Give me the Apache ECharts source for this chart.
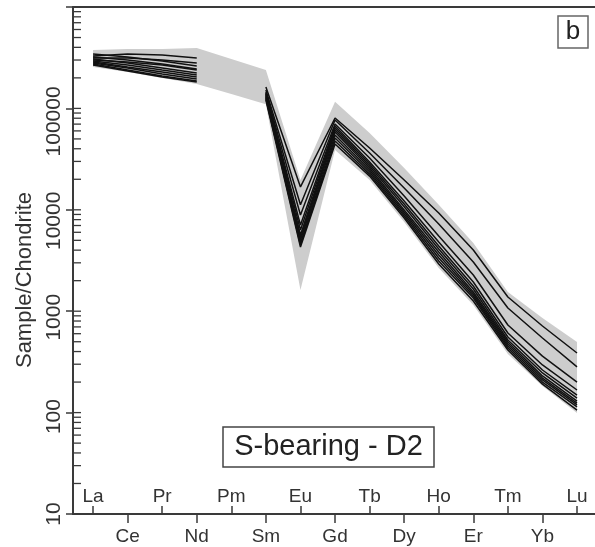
<!DOCTYPE html>
<html><head><meta charset="utf-8">
<script src="https://cdn.jsdelivr.net/npm/echarts@6/dist/echarts.min.js"></script>
<style>html,body{margin:0;padding:0;background:#fff}#c{width:595px;height:547px}</style>
</head><body><div id="c"></div>
<script>
// ---------- data ----------
const categories = ['La','Ce','Pr','Nd','Pm','Sm','Eu','Gd','Tb','Dy','Ho','Er','Tm','Yb','Lu'];
const yTickLabels = [10, 100, 1000, 10000, 100000];
const minorTickValues = [
  10,20,30,40,50,60,70,80,90,
  100,200,300,400,500,600,700,800,900,
  1000,2000,3000,4000,5000,6000,7000,8000,9000,
  10000,20000,30000,40000,50000,60000,70000,80000,90000,
  100000,200000,300000,400000,500000,600000,700000,800000,900000,1000000
];
// envelope (grey field)
const bandUpper = [377000,385000,385000,394000,307000,239000,19700,116000,57200,25800,11200,4710,1546,857,497];
const bandLower = [256000,229000,199000,174000,139000,110000,1619,38900,19700,7580,2667,1151,378,183,99];
// individual samples (Pm not analysed)
const sampleA = [329000,344000,336000,314000,null,163000,16800,80400,40700,19700,9300,4015,1380,715,387];
const sampleB = [314000,314000,300000,280000,null,152000,11200,76800,36300,16400,7240,3057,1075,544,282];
const sampleC = [300000,287000,268000,239000,null,145000,8890,70200,32400,13700,5520,2275,731,361,200];
const sampleD = [344000,321000,293000,262000,null,142000,7080,67100,29600,12200,4810,1941,610,295,167];
const sampleE = [321000,300000,274000,245000,null,139000,6320,64100,28300,11400,4400,1773,557,263,149];
const sampleF = [307000,280000,250000,223000,null,136000,5640,61200,27000,10700,4110,1656,520,246,139];
const sampleG = [293000,268000,239000,214000,null,133000,5270,58500,25800,9950,3835,1546,497,230,130];
const sampleH = [287000,256000,229000,204000,null,130000,5040,54700,24700,9510,3583,1477,475,219,124];
const sampleI = [280000,250000,218000,195000,null,127000,4710,51100,23600,9090,3348,1412,454,210,119];
const sampleJ = [274000,239000,209000,186000,null,124000,4500,47700,22500,8690,3127,1350,434,200,114];
const sampleK = [268000,234000,204000,182000,null,121000,4300,44600,21500,8300,2921,1261,414,191,106];
const samples = [sampleA,sampleB,sampleC,sampleD,sampleE,sampleF,sampleG,sampleH,sampleI,sampleJ,sampleK];

// ---------- chart ----------
const FONT = 'Liberation Sans, Arial, sans-serif';
const AXC = '#3a3a3a';
const idx = categories.map((c, i) => i);
const evenIdx = idx.filter(i => i % 2 === 0);
const oddIdx = idx.filter(i => i % 2 === 1);
const XMIN = -0.58, XMAX = 14.52;
const catFmt = v => categories[Math.round(v)] || '';

const chart = echarts.init(document.getElementById('c'), null, {renderer: 'canvas'});

const lineSeries = samples.map(s => ({
  type: 'line', xAxisIndex: 0, yAxisIndex: 0, symbol: 'none', silent: true,
  connectNulls: false, animation: false, z: 3,
  lineStyle: {color: '#111', width: 1.5},
  data: s.map((v, i) => [i, v == null ? '-' : v])
}));

const bandSeries = {
  type: 'custom', xAxisIndex: 0, yAxisIndex: 0, silent: true, animation: false, z: 1,
  data: [[0, bandUpper[0]]],
  renderItem: function (params, api) {
    const pts = [];
    bandUpper.forEach((v, i) => pts.push(api.coord([i, v])));
    for (let i = bandLower.length - 1; i >= 0; i--) pts.push(api.coord([i, bandLower[i]]));
    return {type: 'polygon', shape: {points: pts}, style: {fill: '#cdcdcd', stroke: null}};
  }
};

// inner y ticks (1-9 per decade) placed through the log axis
const tickSeries = {
  type: 'custom', xAxisIndex: 0, yAxisIndex: 0, silent: true, animation: false, z: 5, clip: false,
  encode: {x: 0, y: 1},
  data: minorTickValues.map(v => [XMIN, v]),
  renderItem: function (params, api) {
    const p = api.coord([api.value(0), api.value(1)]);
    return {type: 'line', shape: {x1: p[0], y1: p[1], x2: p[0] + 8, y2: p[1]},
            style: {stroke: AXC, lineWidth: 1.3}};
  }
};

// per-label shift mimicking the original label placement
const labelShift = [0, 8, 12, 22, 26];
const rich = {};
labelShift.forEach((p, i) => {
  rich['s' + i] = {fontSize: 21, color: '#333', fontFamily: FONT, padding: [0, p, 0, 0]};
});

const option = {
  animation: false,
  backgroundColor: '#fff',
  grid: {left: 73, right: 0, top: 7, bottom: 33, containLabel: false, outerBoundsMode: 'none'},
  xAxis: [
    {type: 'value', position: 'bottom', min: XMIN, max: XMAX,
     axisLine: {show: true, onZero: false, lineStyle: {color: AXC, width: 2}},
     splitLine: {show: false},
     axisTick: {show: true, inside: true, length: 8, customValues: evenIdx, lineStyle: {color: AXC, width: 1.5}},
     axisLabel: {show: true, inside: true, margin: 8, customValues: evenIdx, formatter: catFmt,
                 fontSize: 19, color: '#333', fontFamily: FONT}},
    {type: 'value', position: 'bottom', min: XMIN, max: XMAX,
     axisLine: {show: false, onZero: false},
     splitLine: {show: false},
     axisTick: {show: true, inside: false, length: 9, customValues: oddIdx, lineStyle: {color: AXC, width: 1.5}},
     axisLabel: {show: true, margin: 13, customValues: oddIdx, formatter: catFmt,
                 fontSize: 19, color: '#333', fontFamily: FONT}},
    {type: 'value', position: 'top', min: XMIN, max: XMAX,
     axisLine: {show: true, onZero: false, lineStyle: {color: AXC, width: 2}},
     axisTick: {show: false}, axisLabel: {show: false}, splitLine: {show: false}}
  ],
  yAxis: [
    {type: 'log', logBase: 10, min: 10, max: 1000000, position: 'left', splitNumber: 5,
     axisLine: {show: true, onZero: false, lineStyle: {color: AXC, width: 2}},
     axisTick: {show: true, inside: false, length: 7, lineStyle: {color: AXC, width: 1.5}},
     minorTick: {show: false}, splitLine: {show: false},
     axisLabel: {rotate: 90, margin: 8, fontSize: 21, color: '#333', fontFamily: FONT, rich: rich,
       formatter: v => {
         const k = yTickLabels.findIndex(t => Math.abs(Math.log10(t) - Math.log10(v)) < 1e-6);
         return k >= 0 ? '{s' + k + '|' + yTickLabels[k] + '}' : '';
       }}}
  ],
  series: [bandSeries].concat(lineSeries).concat([tickSeries]),
  graphic: [
    {type: 'text', x: 25, y: 280, rotation: Math.PI / 2, z: 10,
     style: {text: 'Sample/Chondrite', font: '22px ' + FONT, fill: '#333',
             align: 'center', verticalAlign: 'middle', textAlign: 'center', textVerticalAlign: 'middle'}},
    {type: 'rect', shape: {x: 558, y: 16, width: 30, height: 32}, z: 10,
     style: {fill: '#fff', stroke: '#666', lineWidth: 1.5}},
    {type: 'text', x: 573, y: 32, z: 11,
     style: {text: 'b', font: '26px ' + FONT, fill: '#222',
             align: 'center', verticalAlign: 'middle', textAlign: 'center', textVerticalAlign: 'middle'}},
    {type: 'rect', shape: {x: 223, y: 427, width: 211, height: 40}, z: 10,
     style: {fill: '#fff', stroke: '#444', lineWidth: 1.5}},
    {type: 'text', x: 328.5, y: 447, z: 11,
     style: {text: 'S-bearing - D2', font: '29px ' + FONT, fill: '#222',
             align: 'center', verticalAlign: 'middle', textAlign: 'center', textVerticalAlign: 'middle'}}
  ]
};
chart.setOption(option);
</script></body></html>
